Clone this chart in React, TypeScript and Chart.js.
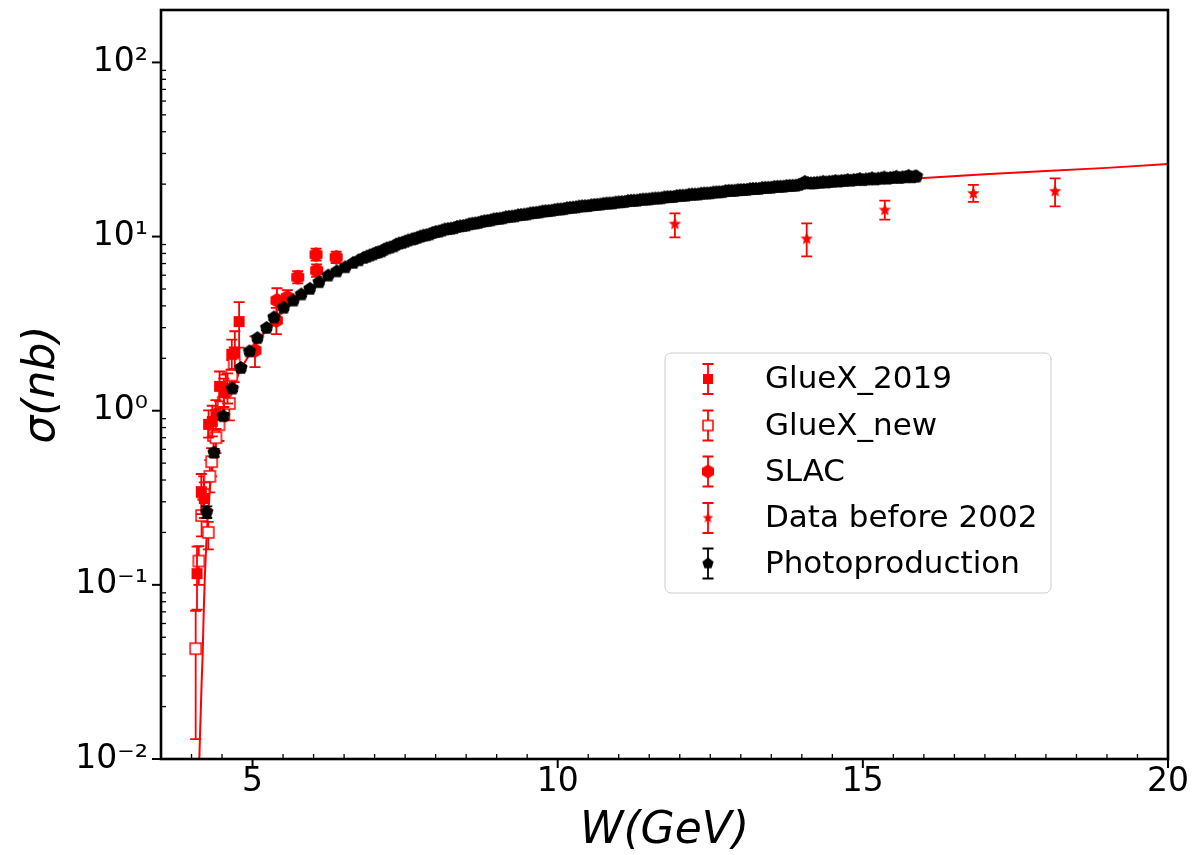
import React, { useEffect, useRef } from 'react';
import { Chart, registerables } from 'chart.js';

Chart.register(...registerables);

const FONT = "'DejaVu Sans', 'Liberation Sans', sans-serif";
const RED = '#ff0000';

// [W (GeV), sigma (nb), error below, error above]
const gluex2019: number[][] = [
  [4.09, 0.116, 0.044, 0.05],
  [4.16, 0.343, 0.088, 0.09],
  [4.21, 0.313, 0.071, 0.075],
  [4.28, 0.835, 0.134, 0.17],
  [4.34, 0.868, 0.155, 0.2],
  [4.4, 0.95, 0.165, 0.2],
  [4.46, 1.38, 0.25, 0.3],
  [4.53, 1.27, 0.22, 0.26],
  [4.59, 1.34, 0.24, 0.3],
  [4.66, 2.11, 0.39, 0.45],
  [4.71, 2.16, 0.42, 0.7],
  [4.78, 3.25, 0.95, 0.95],
];

const gluexNew: number[][] = [
  [4.068, 0.043, 0.03, 0.028],
  [4.12, 0.137, 0.037, 0.03],
  [4.165, 0.25, 0.06, 0.07],
  [4.2, 0.33, 0.08, 0.09],
  [4.275, 0.2, 0.04, 0.03],
  [4.3, 0.42, 0.08, 0.1],
  [4.33, 0.51, 0.09, 0.1],
  [4.36, 0.72, 0.14, 0.15],
  [4.4, 0.7, 0.13, 0.15],
  [4.45, 0.83, 0.16, 0.2],
  [4.52, 1.12, 0.22, 0.25],
  [4.56, 1.31, 0.26, 0.3],
  [4.62, 1.1, 0.22, 0.3],
  [4.66, 1.6, 0.3, 0.35],
  [4.7, 1.86, 0.4, 0.45],
];

const slac: number[][] = [
  [5.04, 2.22, 0.44, 0.45],
  [5.39, 3.3, 0.55, 0.6],
  [5.4, 4.3, 0.7, 0.75],
  [5.57, 4.48, 0.4, 0.45],
  [5.74, 5.84, 0.45, 0.5],
  [6.05, 6.38, 0.5, 0.55],
  [6.04, 7.87, 0.6, 0.65],
  [6.37, 7.6, 0.55, 0.6],
];

const before2002: number[][] = [
  [11.92, 11.8, 1.9, 1.8],
  [14.08, 9.7, 2.0, 2.2],
  [15.36, 14.2, 1.7, 1.9],
  [16.81, 17.7, 1.9, 2.1],
  [18.15, 18.2, 3.3, 3.4],
];

// [W (GeV), sigma (nb), symmetric error]
const photoproduction: number[][] = [
  [4.25, 0.262, 0.02], [4.37, 0.574, 0.03], [4.52, 0.93, 0.04], [4.67, 1.34, 0.05],
  [4.81, 1.76, 0.06], [4.95, 2.19, 0.07], [5.08, 2.61, 0.08], [5.23, 2.99, 0.09],
  [5.35, 3.43, 0.1], [5.51, 3.9, 0.11], [5.67, 4.29, 0.12], [5.8, 4.65, 0.13],
  [5.94, 5.01, 0.14], [6.09, 5.47, 0.15], [6.24, 5.97, 0.16], [6.38, 6.31, 0.17],
  [6.52, 6.66, 0.18], [6.65, 7.06, 0.19], [6.74, 7.3, 0.19], [6.82, 7.54, 0.2],
  [6.87, 7.66, 0.2], [6.92, 7.78, 0.2], [6.97, 7.9, 0.2], [7.02, 8.05, 0.21],
  [7.06, 8.12, 0.21], [7.11, 8.22, 0.21], [7.15, 8.4, 0.22], [7.2, 8.55, 0.22],
  [7.25, 8.64, 0.22], [7.31, 8.78, 0.22], [7.35, 8.98, 0.23], [7.4, 9.12, 0.23],
  [7.45, 9.2, 0.23], [7.5, 9.35, 0.23], [7.55, 9.5, 0.24], [7.61, 9.62, 0.24],
  [7.65, 9.7, 0.24], [7.7, 9.84, 0.24], [7.75, 10.0, 0.25], [7.8, 10.12, 0.25],
  [7.85, 10.18, 0.25], [7.9, 10.3, 0.25], [7.95, 10.5, 0.26], [8.0, 10.62, 0.26],
  [8.05, 10.68, 0.26], [8.1, 10.82, 0.26], [8.15, 10.98, 0.27], [8.2, 11.05, 0.27],
  [8.25, 11.1, 0.27], [8.3, 11.18, 0.27], [8.35, 11.36, 0.28], [8.4, 11.45, 0.28],
  [8.45, 11.5, 0.28], [8.5, 11.58, 0.28], [8.55, 11.76, 0.29], [8.6, 11.85, 0.29],
  [8.65, 11.9, 0.29], [8.7, 11.98, 0.29], [8.75, 12.15, 0.3], [8.8, 12.25, 0.3],
  [8.85, 12.3, 0.3], [8.9, 12.38, 0.3], [8.95, 12.55, 0.31], [9.0, 12.62, 0.31],
  [9.05, 12.66, 0.31], [9.1, 12.75, 0.31], [9.15, 12.92, 0.32], [9.2, 12.98, 0.32],
  [9.25, 13.02, 0.32], [9.3, 13.08, 0.32], [9.35, 13.25, 0.33], [9.4, 13.32, 0.33],
  [9.45, 13.36, 0.33], [9.5, 13.42, 0.33], [9.55, 13.58, 0.34], [9.6, 13.65, 0.34],
  [9.65, 13.7, 0.34], [9.7, 13.78, 0.34], [9.75, 13.92, 0.35], [9.8, 13.98, 0.35],
  [9.85, 14.02, 0.35], [9.9, 14.08, 0.35], [9.95, 14.22, 0.36], [10.0, 14.3, 0.36],
  [10.05, 14.32, 0.36], [10.1, 14.38, 0.36], [10.15, 14.55, 0.37], [10.2, 14.62, 0.37],
  [10.25, 14.66, 0.37], [10.3, 14.72, 0.37], [10.35, 14.86, 0.38], [10.4, 14.92, 0.38],
  [10.45, 14.95, 0.38], [10.5, 14.98, 0.38], [10.55, 15.12, 0.39], [10.6, 15.18, 0.39],
  [10.65, 15.22, 0.39], [10.7, 15.28, 0.39], [10.75, 15.42, 0.4], [10.8, 15.48, 0.4],
  [10.85, 15.5, 0.4], [10.9, 15.52, 0.4], [10.95, 15.68, 0.41], [11.0, 15.74, 0.41],
  [11.05, 15.76, 0.41], [11.1, 15.82, 0.41], [11.15, 15.98, 0.42], [11.2, 16.05, 0.42],
  [11.25, 16.06, 0.42], [11.3, 16.08, 0.42], [11.35, 16.24, 0.43], [11.4, 16.3, 0.43],
  [11.45, 16.32, 0.43], [11.5, 16.36, 0.43], [11.55, 16.5, 0.44], [11.6, 16.55, 0.44],
  [11.65, 16.56, 0.44], [11.7, 16.6, 0.44], [11.75, 16.8, 0.45], [11.8, 16.85, 0.45],
  [11.85, 16.86, 0.45], [11.9, 16.88, 0.45], [11.95, 17.08, 0.46], [12.0, 17.15, 0.46],
  [12.05, 17.16, 0.46], [12.1, 17.18, 0.46], [12.15, 17.38, 0.47], [12.2, 17.42, 0.47],
  [12.25, 17.43, 0.47], [12.3, 17.45, 0.47], [12.35, 17.62, 0.48], [12.4, 17.68, 0.48],
  [12.45, 17.7, 0.48], [12.5, 17.72, 0.48], [12.55, 17.9, 0.49], [12.6, 17.95, 0.49],
  [12.65, 17.97, 0.49], [12.7, 18.0, 0.49], [12.75, 18.25, 0.5], [12.8, 18.3, 0.5],
  [12.85, 18.3, 0.5], [12.9, 18.32, 0.5], [12.95, 18.45, 0.51], [13.0, 18.5, 0.51],
  [13.05, 18.52, 0.51], [13.1, 18.55, 0.51], [13.15, 18.72, 0.52], [13.2, 18.78, 0.52],
  [13.25, 18.78, 0.52], [13.3, 18.8, 0.52], [13.35, 19.0, 0.53], [13.4, 19.05, 0.53],
  [13.45, 19.06, 0.53], [13.5, 19.08, 0.53], [13.55, 19.28, 0.54], [13.6, 19.32, 0.54],
  [13.65, 19.33, 0.54], [13.7, 19.35, 0.54], [13.75, 19.5, 0.55], [13.8, 19.55, 0.55],
  [13.85, 19.57, 0.55], [13.9, 19.6, 0.55], [13.95, 19.8, 0.56], [14.0, 20.1, 0.56],
  [14.05, 20.6, 0.56], [14.1, 20.3, 0.57], [14.15, 20.2, 0.57], [14.2, 20.25, 0.57],
  [14.25, 20.35, 0.58], [14.3, 20.4, 0.58], [14.35, 20.62, 0.58], [14.4, 20.45, 0.58],
  [14.45, 20.6, 0.59], [14.5, 20.65, 0.59], [14.55, 20.85, 0.59], [14.6, 20.7, 0.59],
  [14.65, 20.85, 0.6], [14.7, 20.9, 0.6], [14.75, 21.12, 0.6], [14.8, 20.92, 0.6],
  [14.85, 21.1, 0.61], [14.9, 21.15, 0.61], [14.95, 21.4, 0.61], [15.0, 21.1, 0.61],
  [15.05, 21.3, 0.62], [15.1, 21.35, 0.62], [15.15, 21.62, 0.62], [15.2, 21.3, 0.62],
  [15.25, 21.5, 0.63], [15.3, 21.55, 0.63], [15.35, 21.85, 0.63], [15.4, 21.5, 0.63],
  [15.45, 21.7, 0.64], [15.5, 21.75, 0.64], [15.55, 22.05, 0.64], [15.6, 21.7, 0.64],
  [15.65, 21.9, 0.65], [15.7, 21.95, 0.65], [15.75, 22.3, 0.65], [15.8, 21.9, 0.65],
  [15.85, 22.1, 0.66], [15.88, 22.15, 0.66],
];

// fitted curve [W, sigma]
const fitCurve: number[][] = [
  [4.128, 0.01], [4.14, 0.014], [4.165, 0.027], [4.183, 0.04], [4.2, 0.07],
  [4.22, 0.115], [4.25, 0.2], [4.3, 0.36], [4.4, 0.65], [4.5, 0.92],
  [4.6, 1.17], [4.8, 1.72], [5.0, 2.25], [5.25, 3.0], [5.5, 3.85],
  [6.0, 5.2], [6.5, 6.6], [7.0, 8.0], [7.5, 9.3], [8.0, 10.5],
  [9.0, 12.5], [10.0, 14.2], [11.0, 15.7], [12.0, 17.0], [13.0, 18.3],
  [14.0, 19.5], [15.0, 20.6], [16.0, 21.7], [17.0, 22.8], [18.0, 23.8],
  [19.0, 24.8], [20.0, 26.1],
];

const xTicks = [5, 10, 15, 20];
const xTickLabels = ['5', '10', '15', '20'];
const yTicks = [0.01, 0.1, 1, 10, 100];
const yTickLabels = ['10\u207B\u00B2', '10\u207B\u00B9', '10\u2070', '10\u00B9', '10\u00B2'];
const legendLabels = ['GlueX_2019', 'GlueX_new', 'SLAC', 'Data before 2002', 'Photoproduction'];

function makeMarker(kind: string, size: number, fill: string, stroke: string, lw: number): HTMLCanvasElement {
  const pad = 2;
  const dim = Math.ceil(size + 2 * pad);
  const c = document.createElement('canvas');
  c.width = dim;
  c.height = dim;
  const ctx = c.getContext('2d')!;
  const cx = dim / 2;
  const cy = dim / 2;
  const r = size / 2;
  ctx.beginPath();
  if (kind === 'square') {
    ctx.rect(cx - r, cy - r, size, size);
  } else {
    const n = kind === 'hexagon' ? 6 : kind === 'pentagon' ? 5 : 10;
    for (let i = 0; i < n; i++) {
      const ang = -Math.PI / 2 + (i * 2 * Math.PI) / n;
      const rr = kind === 'star' ? (i % 2 === 0 ? r : r * 0.45) : r;
      const px = cx + rr * Math.cos(ang);
      const py = cy + rr * Math.sin(ang);
      if (i === 0) ctx.moveTo(px, py);
      else ctx.lineTo(px, py);
    }
  }
  ctx.closePath();
  ctx.fillStyle = fill;
  ctx.fill();
  if (lw > 0) {
    ctx.lineWidth = lw;
    ctx.strokeStyle = stroke;
    ctx.stroke();
  }
  return c;
}

type ErrBar = { x: number; lo: number; hi: number };

function toPoints(arr: number[][]) {
  return arr.map((p) => ({ x: p[0], y: p[1] }));
}
function toErr4(arr: number[][]): ErrBar[] {
  return arr.map((p) => ({ x: p[0], lo: p[1] - p[2], hi: p[1] + p[3] }));
}
function toErr3(arr: number[][]): ErrBar[] {
  return arr.map((p) => ({ x: p[0], lo: p[1] - p[2], hi: p[1] + p[2] }));
}

const CAP = 5.5;

function drawErr(ctx: CanvasRenderingContext2D, px: number, top: number, bot: number) {
  ctx.beginPath();
  ctx.moveTo(px, top);
  ctx.lineTo(px, bot);
  ctx.moveTo(px - CAP, top);
  ctx.lineTo(px + CAP, top);
  ctx.moveTo(px - CAP, bot);
  ctx.lineTo(px + CAP, bot);
  ctx.stroke();
}

const errorBarPlugin = {
  id: 'errorBars',
  beforeDatasetDraw(chart: any, args: any) {
    const ds = chart.data.datasets[args.index];
    if (!ds.errorBars) return;
    const { ctx, chartArea: a, scales } = chart;
    ctx.save();
    ctx.beginPath();
    ctx.rect(a.left, a.top, a.right - a.left, a.bottom - a.top);
    ctx.clip();
    ctx.strokeStyle = ds.errorColor;
    ctx.lineWidth = 1.8;
    for (const e of ds.errorBars as ErrBar[]) {
      const px = scales.x.getPixelForValue(e.x);
      const top = scales.y.getPixelForValue(e.hi);
      const bot = scales.y.getPixelForValue(Math.max(e.lo, 1e-6));
      drawErr(ctx, px, top, bot);
    }
    ctx.restore();
  },
};

const axesPlugin = {
  id: 'mplAxes',
  afterDatasetsDraw(chart: any) {
    const { ctx, chartArea: a, scales } = chart;
    const line = (x1: number, y1: number, x2: number, y2: number) => {
      ctx.beginPath();
      ctx.moveTo(x1, y1);
      ctx.lineTo(x2, y2);
      ctx.stroke();
    };
    ctx.save();
    ctx.strokeStyle = '#000';
    ctx.lineWidth = 2;
    for (const v of xTicks) {
      const px = scales.x.getPixelForValue(v);
      line(px, a.bottom, px, a.bottom + 9);
    }
    for (const v of yTicks) {
      const py = scales.y.getPixelForValue(v);
      line(a.left - 9, py, a.left, py);
    }
    ctx.lineWidth = 1.3;
    for (let i = 1; i < 33; i++) {
      const v = 3.5 + i * 0.5;
      if (xTicks.includes(v)) continue;
      const px = scales.x.getPixelForValue(v);
      line(px, a.bottom, px, a.bottom - 5);
    }
    for (let d = -2; d <= 1; d++) {
      for (let m = 2; m <= 9; m++) {
        const py = scales.y.getPixelForValue(m * Math.pow(10, d));
        line(a.left, py, a.left + 5, py);
      }
    }
    ctx.lineWidth = 2.6;
    ctx.strokeRect(a.left, a.top, a.right - a.left, a.bottom - a.top);
    ctx.restore();
  },
};

export default function App() {
  const ref = useRef<HTMLCanvasElement | null>(null);

  useEffect(() => {
    document.body.style.margin = '0';
    const canvas = ref.current;
    if (!canvas) return;

    const mkSquare = makeMarker('square', 11, RED, RED, 0);
    const mkOpen = makeMarker('square', 11, '#ffffff', RED, 1.5);
    const mkHex = makeMarker('hexagon', 15, RED, RED, 0);
    const mkStar = makeMarker('star', 13, RED, RED, 0);
    const mkPent = makeMarker('pentagon', 14, '#000000', '#000000', 0);
    const legendMarkers = [
      makeMarker('square', 10, RED, RED, 0),
      makeMarker('square', 10, '#ffffff', RED, 1.5),
      makeMarker('hexagon', 14, RED, RED, 0),
      makeMarker('star', 11, RED, RED, 0),
      makeMarker('pentagon', 12, '#000000', '#000000', 0),
    ];
    const legendColors = [RED, RED, RED, RED, '#000000'];

    const legendPlugin = {
      id: 'mplLegend',
      afterDraw(chart: any) {
        const ctx = chart.ctx as CanvasRenderingContext2D;
        ctx.save();
        const bx = 665, by = 353, bw = 386, bh = 240, r = 6;
        ctx.beginPath();
        ctx.moveTo(bx + r, by);
        ctx.lineTo(bx + bw - r, by);
        ctx.arcTo(bx + bw, by, bx + bw, by + r, r);
        ctx.lineTo(bx + bw, by + bh - r);
        ctx.arcTo(bx + bw, by + bh, bx + bw - r, by + bh, r);
        ctx.lineTo(bx + r, by + bh);
        ctx.arcTo(bx, by + bh, bx, by + bh - r, r);
        ctx.lineTo(bx, by + r);
        ctx.arcTo(bx, by, bx + r, by, r);
        ctx.closePath();
        ctx.fillStyle = 'rgba(255,255,255,0.8)';
        ctx.fill();
        ctx.strokeStyle = '#cccccc';
        ctx.lineWidth = 1;
        ctx.stroke();
        const rows = [379, 425.5, 471.5, 518, 563.5];
        const mx = 708;
        ctx.font = `31px ${FONT}`;
        ctx.textBaseline = 'middle';
        ctx.textAlign = 'left';
        legendLabels.forEach((lab, i) => {
          const y = rows[i];
          ctx.strokeStyle = legendColors[i];
          ctx.lineWidth = 1.8;
          drawErr(ctx, mx, y - 15, y + 15);
          const m = legendMarkers[i];
          ctx.drawImage(m, mx - m.width / 2, y - m.height / 2);
          ctx.fillStyle = '#000';
          ctx.fillText(lab, 765, y + 1);
        });
        ctx.restore();
      },
    };

    const chart = new Chart(canvas, {
      type: 'scatter',
      data: {
        datasets: [
          {
            label: legendLabels[4],
            data: toPoints(photoproduction),
            pointStyle: mkPent as any,
            pointRadius: 7,
            order: 0,
            errorBars: toErr3(photoproduction),
            errorColor: '#000000',
          } as any,
          {
            label: legendLabels[2],
            data: toPoints(slac),
            pointStyle: mkHex as any,
            pointRadius: 7,
            order: 1,
            errorBars: toErr4(slac),
            errorColor: RED,
          } as any,
          {
            label: legendLabels[3],
            data: toPoints(before2002),
            pointStyle: mkStar as any,
            pointRadius: 6,
            order: 2,
            errorBars: toErr4(before2002),
            errorColor: RED,
          } as any,
          {
            label: legendLabels[0],
            data: toPoints(gluex2019),
            pointStyle: mkSquare as any,
            pointRadius: 6,
            order: 3,
            errorBars: toErr4(gluex2019),
            errorColor: RED,
          } as any,
          {
            label: legendLabels[1],
            data: toPoints(gluexNew),
            pointStyle: mkOpen as any,
            pointRadius: 6,
            order: 4,
            errorBars: toErr4(gluexNew),
            errorColor: RED,
          } as any,
          {
            label: 'fit',
            data: toPoints(fitCurve),
            showLine: true,
            borderColor: RED,
            borderWidth: 2,
            pointRadius: 0,
            fill: false,
            tension: 0,
            order: 5,
          } as any,
        ],
      },
      options: {
        animation: false,
        responsive: false,
        devicePixelRatio: 1,
        events: [],
        layout: { padding: { top: 10, right: 25, left: 0, bottom: 0 } },
        plugins: { legend: { display: false }, tooltip: { enabled: false } },
        scales: {
          x: {
            type: 'linear',
            min: 3.5,
            max: 20,
            afterBuildTicks: (s: any) => {
              s.ticks = xTicks.map((v) => ({ value: v }));
            },
            afterFit: (s: any) => {
              s.height = 96;
              s.paddingLeft = 0;
              s.paddingRight = 0;
            },
            grid: { display: false, drawTicks: false, tickLength: 0 },
            border: { display: false },
            ticks: {
              font: { family: FONT, size: 33 },
              color: '#000',
              padding: 4,
              maxRotation: 0,
              autoSkip: false,
              callback: (v: any) => {
                const i = xTicks.indexOf(Number(v));
                return i >= 0 ? xTickLabels[i] : '';
              },
            },
            title: {
              display: true,
              text: 'W(GeV)',
              color: '#000',
              font: { family: FONT, size: 44, style: 'italic', lineHeight: 1 },
              padding: { top: 0, bottom: 1 },
            },
          },
          y: {
            type: 'logarithmic',
            min: 0.01,
            max: 200,
            afterBuildTicks: (s: any) => {
              s.ticks = yTicks.map((v) => ({ value: v, major: true }));
            },
            afterFit: (s: any) => {
              s.width = 161;
              s.paddingTop = 0;
              s.paddingBottom = 0;
            },
            grid: { display: false, drawTicks: false, tickLength: 0 },
            border: { display: false },
            ticks: {
              font: { family: FONT, size: 33 },
              color: '#000',
              padding: 13,
              autoSkip: false,
              callback: (v: any) => {
                const i = yTicks.findIndex((t) => Math.abs(Math.log10(t) - Math.log10(Number(v))) < 1e-6);
                return i >= 0 ? yTickLabels[i] : '';
              },
            },
            title: {
              display: true,
              text: '\u03C3(nb)',
              color: '#000',
              font: { family: FONT, size: 44, style: 'italic', lineHeight: 1 },
              padding: { top: 21, bottom: 0 },
            },
          },
        },
      } as any,
      plugins: [errorBarPlugin, axesPlugin, legendPlugin],
    });

    return () => {
      chart.destroy();
    };
  }, []);

  return (
    <div style={{ width: 1193, height: 855, position: 'relative', background: '#fff' }}>
      <canvas ref={ref} width={1193} height={855} style={{ display: 'block', width: 1193, height: 855 }} />
    </div>
  );
}
